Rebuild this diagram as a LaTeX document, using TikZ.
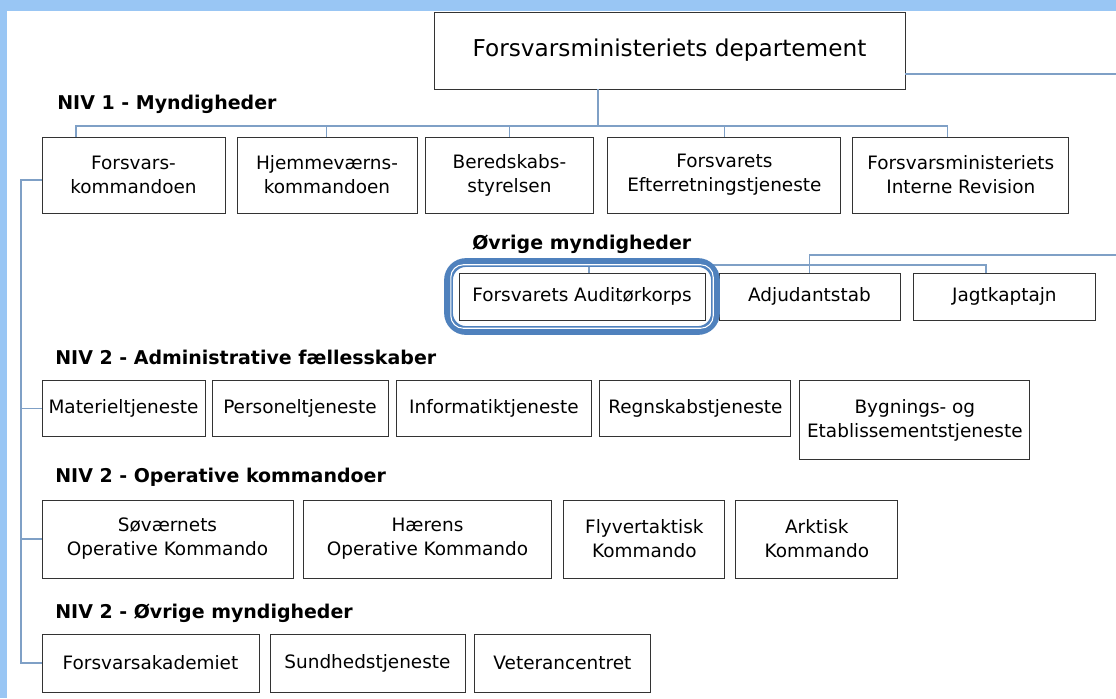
\documentclass[tikz,border=0pt]{standalone}
\usepackage{fontspec}
\setmainfont{DejaVu Sans}
\usetikzlibrary{positioning}
\usetikzlibrary{calc}
\usetikzlibrary{fit}
\definecolor{frameblue}{RGB}{153,198,244}
\definecolor{linkblue}{RGB}{127,160,198}
\definecolor{hiblue}{RGB}{79,129,189}

\begin{document}
\begin{tikzpicture}[x=0.02cm,y=-0.02cm,
                      font=\fontsize{10.5}{13.6}\selectfont,
                      node distance=2mm and 2.4mm,
                      unit/.style={draw=black!80,line width=0.5pt,align=center,inner sep=0pt,outer sep=0pt},
                      top/.style={unit,minimum width=9.42cm,minimum height=1.54cm,font=\fontsize{13.2}{16}\selectfont},
                      rowa/.style={unit,minimum height=1.52cm},
                      rowb/.style={unit,minimum height=0.94cm},
                      rowc/.style={unit,minimum height=1.12cm},
                      rowd/.style={unit,minimum height=1.56cm},
                      rowe/.style={unit,minimum height=1.16cm},
                      level/.style={anchor=west,inner sep=0pt,font=\bfseries\fontsize{10.8}{13}\selectfont},
                      link/.style={draw=linkblue,line width=0.6pt},
                      hilite/.style={draw=hiblue,line width=5pt,rounded corners=3.5mm,inner sep=0.21cm},
                      ]
    \useasboundingbox (0,0) rectangle (1116,698);
    \fill[frameblue] (0,0) rectangle (1116,11);
    \fill[frameblue] (0,0) rectangle (7,698);

    \node[top] (dep) at (669.5,50.5) {Forsvarsministeriets departement};

    \node[level] (niv1) at (57,104) {NIV 1 - Myndigheder};
    \node[rowa,minimum width=3.66cm] (fk) at (133.5,175) {Forsvars-\\kommandoen};
    \node[rowa,minimum width=3.6cm,right=2.4mm of fk] (hjk) {Hjemmeværns-\\kommandoen};
    \node[rowa,minimum width=3.38cm,right=1.6mm of hjk] (bs) {Beredskabs-\\styrelsen};
    \node[rowa,minimum width=4.66cm,right=2.8mm of bs] (fe) {Forsvarets\\Efterretningstjeneste};
    \node[rowa,minimum width=4.32cm,right=2.4mm of fe] (fir) {Forsvarsministeriets\\Interne Revision};

    \node[level] (ovr) at (472,244) {Øvrige myndigheder};
    \node[rowb,minimum width=4.92cm] (fak) at (582,296.5) {Forsvarets Auditørkorps};
    \node[rowb,minimum width=3.62cm,right=2.8mm of fak] (adj) {Adjudantstab};
    \node[rowb,minimum width=3.66cm,right=2.6mm of adj] (jag) {Jagtkaptajn};

    \node[level] (niv2a) at (55,357) {NIV 2 - Administrative fællesskaber};
    \node[rowc,minimum width=3.26cm] (mat) at (123.5,408.5) {Materieltjeneste};
    \node[rowc,minimum width=3.52cm,right=1.4mm of mat] (pers) {Personeltjeneste};
    \node[rowc,minimum width=3.92cm,right=1.6mm of pers] (inf) {Informatiktjeneste};
    \node[rowc,minimum width=3.82cm,right=1.6mm of inf] (regn) {Regnskabstjeneste};
    \node[unit,minimum width=4.6cm,minimum height=1.58cm,right=1.8mm of regn.north east,anchor=north west] (byg) {Bygnings- og\\Etablissementstjeneste};

    \node[level] (niv2b) at (55,477) {NIV 2 - Operative kommandoer};
    \node[rowd,minimum width=5.02cm] (sov) at (167.5,539) {Søværnets\\Operative Kommando};
    \node[rowd,minimum width=4.98cm,right=2mm of sov] (haer) {Hærens\\Operative Kommando};
    \node[rowd,minimum width=3.22cm,right=2.4mm of haer] (fly) {Flyvertaktisk\\Kommando};
    \node[rowd,minimum width=3.24cm,right=2.2mm of fly] (ark) {Arktisk\\Kommando};

    \node[level] (niv2c) at (55,613) {NIV 2 - Øvrige myndigheder};
    \node[rowe,minimum width=4.34cm] (fa) at (150.5,663) {Forsvarsakademiet};
    \node[rowe,minimum width=3.9cm,right=2.2mm of fa] (sun) {Sundhedstjeneste};
    \node[rowe,minimum width=3.54cm,right=1.8mm of sun] (vet) {Veterancentret};

    % niv 1
    \coordinate (bus1) at (598,126);
    \coordinate (depOut) at (1116,74);
    \path (fk.north west) ++(34,0) coordinate (fkTop);
    \path (fir.north west) ++(95,0) coordinate (firTop);
    \draw[link] (dep.south -| bus1) -- (bus1);
    \draw[link] (fkTop) |- (bus1) -| (firTop);
    \draw[link] (bus1 -| hjk) -- (hjk);
    \draw[link] (bus1 -| bs) -- (bs);
    \draw[link] (bus1 -| fe) -- (fe);
    \draw[link] (dep.east |- depOut) -- (depOut);

    % venstre side
    \coordinate (spine) at (21,180);
    \draw[link] (fk.west |- spine) -- (spine) |- (fa.west);
    \draw[link] (spine |- mat) -- (mat);
    \draw[link] (spine |- sov) -- (sov);

    % oevrige
    \coordinate (ovrBus) at (589,265);
    \coordinate (ovrBusEnd) at (986,265);
    \coordinate (ovrOut) at (1116,255);
    \draw[link] (fak.north -| ovrBus) -- (ovrBus) -- (ovrBusEnd) -- (jag.north -| ovrBusEnd);
    \draw[link] (ovrOut) -| (adj);

    \node[hilite,fit=(fak)] (hl) {};
    \node[draw=white,line width=0.6pt,rounded corners=2.5mm,inner sep=0.165cm,fit=(fak)] (hlin) {};
\end{tikzpicture}
\end{document}
